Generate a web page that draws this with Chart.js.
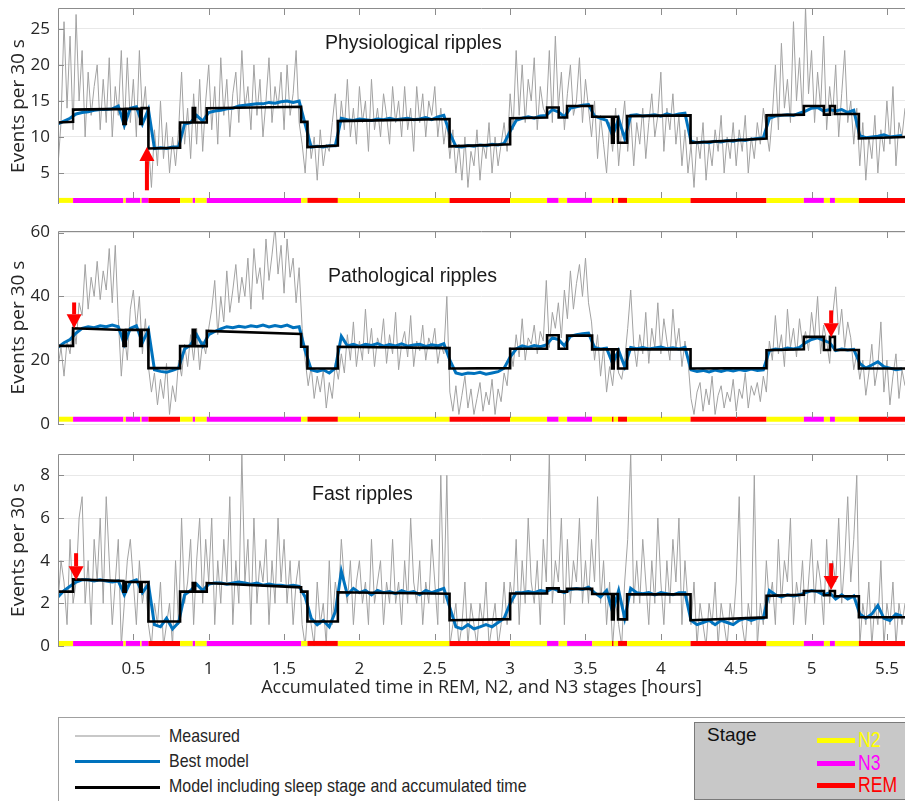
<!DOCTYPE html>
<html>
<head>
<meta charset="utf-8">
<script src="https://cdn.jsdelivr.net/npm/chart.js@4.4.1/dist/chart.umd.min.js"></script>
<style>
  body { margin: 0; background: #fff; width: 905px; height: 801px; overflow: hidden; position: relative; }
  canvas { position: absolute; left: 0; }
  .ptitle { position: absolute; font: 19.5px "Liberation Sans", Arial, sans-serif; color: #1a1a1a; line-height: 22px; white-space: nowrap; }
  .lgtext { position: absolute; font: 19px "Liberation Sans", Arial, sans-serif; color: #262626; line-height: 20px; white-space: nowrap; transform: scaleX(0.84); transform-origin: left center; }
  .lgline { position: absolute; }
  #legendBox { position: absolute; left: 58px; top: 717px; width: 847px; height: 90px; border-top: 1px solid #a0a0a0; border-left: 1px solid #a0a0a0; }
  #stageBox { position: absolute; left: 694px; top: 722px; width: 215px; height: 76px; background: #c8c8c8; border: 1px solid #7a7a7a; }
  .stxt { position: absolute; font: 22px "Liberation Sans", Arial, sans-serif; line-height: 22px; white-space: nowrap; transform: scaleX(0.8); transform-origin: left center; }
</style>
</head>
<body>
<canvas id="physio" width="905" height="210" style="top:0px"></canvas>
<canvas id="patho" width="905" height="220" style="top:210px"></canvas>
<canvas id="fast" width="905" height="260" style="top:440px"></canvas>

<div class="ptitle" style="left:325px;top:31px">Physiological ripples</div>
<div class="ptitle" style="left:328px;top:264px">Pathological ripples</div>
<div class="ptitle" style="left:312px;top:482px">Fast ripples</div>

<div id="legendBox"></div>
<div class="lgline" style="left:75px;top:735px;width:85px;height:2px;background:#c8c8c8"></div>
<div class="lgtext" style="left:169px;top:726px">Measured</div>
<div class="lgline" style="left:75px;top:760px;width:85px;height:3px;background:#0072bd"></div>
<div class="lgtext" style="left:169px;top:751px">Best model</div>
<div class="lgline" style="left:75px;top:786px;width:85px;height:3px;background:#000"></div>
<div class="lgtext" style="left:169px;top:776px">Model including sleep stage and accumulated time</div>

<div id="stageBox"></div>
<div class="ptitle" style="left:707px;top:724px;font-size:19px;color:#111">Stage</div>
<div class="lgline" style="left:817px;top:738px;width:38px;height:5px;background:#ffff00"></div>
<div class="stxt" style="left:858px;top:729px;color:#ffff00">N2</div>
<div class="lgline" style="left:817px;top:761px;width:38px;height:5px;background:#ff00ff"></div>
<div class="stxt" style="left:858px;top:752px;color:#ff00ff">N3</div>
<div class="lgline" style="left:817px;top:783px;width:38px;height:5px;background:#ff0000"></div>
<div class="stxt" style="left:858px;top:774px;color:#ff0000">REM</div>

<script>
// sleep stage segments (hours of accumulated time)
const stageStart = [0, 0.100, 0.434, 0.450, 0.545, 0.555, 0.600, 0.810, 0.894, 0.910, 0.987, 1.613, 1.655, 1.857, 2.598, 3.000,
  3.245, 3.322, 3.378, 3.544, 3.676, 3.687, 3.716, 3.776, 4.197, 4.701, 4.949, 5.082, 5.122, 5.155, 5.314];
const stageName = ["N2", "N3", "N2", "N3", "N2", "N3", "REM", "N2", "N3", "N2", "N3", "N2", "REM", "N2", "REM", "N2",
  "N3", "N2", "N3", "N2", "REM", "N2", "REM", "N2", "REM", "N2", "N3", "N2", "N3", "N2", "REM"];
const timeEnd = 5.62;
const stageColor = { N2: "#ffff00", N3: "#ff00ff", REM: "#ff0000" };

const measuredStep = 0.02; // hours between measured samples
const bestStep = 0.04;     // hours between best model samples
const xTicks = [0.5, 1, 1.5, 2, 2.5, 3, 3.5, 4, 4.5, 5, 5.5];

// Physiological ripples
const physioMeasured = [
  6, 12, 26, 14, 24, 11, 27, 15, 22, 10, 19, 13, 17, 20, 11, 18, 12, 21, 10, 17, 13, 22, 11, 21, 12,
  18, 10, 22, 13, 17, 9, 3, 11, 6, 15, 7, 12, 5, 10, 6, 11, 19, 9, 14, 7, 16, 9, 18, 8, 15,
  20, 11, 17, 9, 21, 13, 18, 10, 16, 19, 12, 22, 14, 17, 11, 20, 13, 18, 10, 15, 21, 12, 17, 14, 19,
  11, 20, 13, 16, 22, 12, 9, 5, 12, 7, 10, 4, 11, 6, 9, 8, 12, 16, 9, 15, 11, 18, 10, 14, 9,
  17, 12, 15, 8, 18, 11, 14, 10, 16, 13, 9, 17, 12, 15, 10, 17, 11, 14, 8, 17, 12, 16, 10, 15, 13,
  17, 10, 14, 9, 12, 7, 11, 5, 9, 4, 10, 3, 8, 6, 11, 4, 9, 7, 12, 5, 10, 6, 9, 12, 8,
  16, 11, 22, 13, 20, 12, 18, 15, 21, 11, 17, 14, 13, 22, 12, 24, 14, 19, 11, 16, 20, 13, 15, 21, 12,
  18, 14, 10, 15, 7, 13, 9, 5, 12, 8, 14, 6, 11, 15, 8, 13, 6, 12, 9, 14, 7, 12, 16, 10, 13,
  19, 8, 14, 11, 16, 9, 13, 6, 11, 5, 9, 3, 10, 7, 12, 4, 9, 6, 11, 8, 13, 5, 10, 7, 12,
  6, 11, 8, 13, 5, 10, 7, 12, 9, 14, 11, 8, 13, 20, 11, 23, 14, 18, 12, 26, 15, 21, 13, 28, 16,
  22, 12, 19, 14, 24, 11, 17, 13, 20, 10, 16, 22, 12, 15, 9, 14, 6, 12, 4, 10, 7, 13, 5, 11, 8,
  15, 9, 17, 6, 12, 10, 14];
const physioBest = [
  11.8, 12.2, 12.6, 13.2, 13.4, 13.5, 13.7, 13.8, 13.8, 13.9, 14.3, 11.6, 14.0, 14.2, 11.8, 13.8, 8.4, 8.5, 8.4, 8.6, 8.6, 11.8, 12.0, 13.0, 12.2,
  13.4, 13.6, 13.7, 13.9, 14.0, 14.3, 14.4, 14.5, 14.6, 14.6, 14.8, 14.7, 14.9, 15.0, 14.8, 15.0, 11.8, 8.6, 8.7, 8.6, 8.8, 8.8, 12.6, 12.4, 12.3,
  12.5, 12.4, 12.3, 12.5, 12.4, 12.6, 12.4, 12.5, 12.6, 12.4, 12.5, 12.7, 12.4, 12.8, 13.0, 10.5, 8.7, 8.6, 8.8, 8.7, 8.9, 8.8, 9.0, 8.9, 9.1,
  10.8, 12.3, 12.6, 12.8, 12.6, 12.9, 13.0, 13.8, 13.5, 12.8, 14.0, 14.2, 14.4, 14.5, 12.9, 12.6, 12.3, 10.2, 12.5, 9.8, 13.0, 13.1, 12.9, 13.0, 13.1,
  12.9, 13.2, 13.0, 13.2, 13.3, 9.4, 9.2, 9.3, 9.2, 9.4, 9.3, 9.5, 9.4, 9.6, 9.5, 9.7, 9.8, 9.9, 12.6, 12.9, 13.0, 13.1, 13.0, 13.3, 13.6,
  14.0, 14.1, 13.6, 13.8, 13.6, 13.8, 13.4, 13.7, 10.2, 9.9, 10.0, 10.1, 10.3, 10.0, 10.1, 10.2];
const physioModelStart = [12.0, 13.8, 11.8, 13.9, 11.8, 14.0, 8.4, 12.0, 14.0, 12.0, 14.0, 12.1, 8.6, 12.2, 8.7, 12.6,
  14.1, 12.7, 14.3, 12.8, 9.2, 12.8, 9.2, 12.9, 9.2, 13.0, 14.3, 13.1, 14.3, 13.2, 9.8];
const physioModelEnd = [12.1, 13.9, 11.8, 13.9, 11.8, 14.0, 8.5, 12.0, 14.0, 12.0, 14.2, 12.1, 8.8, 12.5, 9.0, 12.7,
  14.1, 12.7, 14.3, 12.8, 9.2, 12.8, 9.2, 13.0, 9.8, 13.1, 14.3, 13.1, 14.3, 13.2, 10.0];
const physioTicks = [5, 10, 15, 20, 25];

// Pathological ripples
const pathoMeasured = [
  18, 24, 15, 26, 22, 32, 25, 38, 34, 50, 36, 46, 40, 51, 39, 48, 42, 55, 38, 56, 33, 15, 28, 20, 36,
  42, 30, 40, 22, 33, 18, 10, 16, 6, 14, 8, 19, 3, 12, 7, 20, 15, 25, 18, 28, 20, 30, 17, 26, 22,
  30, 36, 45, 28, 40, 32, 48, 35, 42, 50, 38, 46, 40, 52, 36, 55, 44, 49, 39, 58, 45, 53, 62, 47, 56,
  41, 58, 46, 52, 38, 49, 30, 20, 12, 18, 8, 15, 10, 17, 5, 13, 8, 19, 14, 22, 16, 28, 20, 32, 18,
  26, 20, 36, 22, 30, 18, 27, 24, 33, 19, 28, 22, 35, 17, 25, 29, 21, 34, 18, 26, 23, 31, 20, 27, 24,
  30, 19, 25, 22, 40, 10, 4, 12, 3, 9, 15, 5, 11, 3, 8, 13, 4, 10, 6, 14, 3, 11, 7, 16, 12,
  24, 18, 28, 21, 33, 20, 27, 25, 31, 22, 29, 26, 45, 24, 35, 30, 38, 27, 42, 33, 48, 36, 44, 50, 40,
  52, 38, 32, 20, 28, 15, 24, 10, 18, 12, 22, 16, 14, 20, 30, 42, 25, 18, 28, 22, 35, 19, 30, 24, 38,
  22, 33, 26, 20, 36, 24, 30, 18, 26, 20, 8, 3, 10, 13, 4, 11, 6, 15, 3, 9, 12, 5, 10, 7, 14,
  4, 11, 8, 16, 5, 12, 9, 13, 7, 15, 10, 26, 20, 34, 22, 28, 18, 36, 24, 30, 21, 33, 25, 29, 23,
  35, 27, 40, 22, 31, 26, 19, 34, 43, 28, 36, 24, 32, 27, 17, 22, 14, 20, 9, 16, 25, 12, 18, 32, 10,
  20, 6, 15, 22, 8, 17, 12];
const pathoBest = [
  24.0, 25.5, 26.5, 28.5, 30.0, 30.5, 30.2, 30.8, 30.5, 31.0, 30.5, 25.0, 30.0, 30.8, 25.5, 29.5, 17.0, 16.5, 16.2, 16.8, 17.5, 23.5, 24.8, 28.0, 24.5,
  28.0, 29.0, 29.8, 30.5, 30.2, 30.6, 30.3, 30.8, 30.5, 31.0, 30.4, 30.9, 30.5, 31.0, 30.2, 30.5, 23.0, 17.0, 16.5, 17.0, 16.0, 17.5, 27.5, 24.5, 25.0,
  24.3, 25.0, 24.6, 25.2, 24.4, 24.9, 24.5, 25.1, 24.4, 24.8, 25.0, 24.3, 24.8, 24.5, 25.2, 20.0, 16.0, 15.5, 16.0, 15.8, 16.2, 15.6, 16.0, 16.4, 17.5,
  21.0, 23.5, 24.5, 24.0, 24.6, 24.2, 24.8, 27.0, 26.5, 24.5, 27.5, 28.0, 28.3, 28.5, 24.0, 23.5, 23.8, 19.0, 23.0, 18.0, 24.0, 23.6, 24.0, 23.5, 23.8,
  24.1, 23.6, 23.9, 23.5, 24.0, 17.0, 16.5, 16.8, 16.3, 16.9, 16.5, 17.0, 16.6, 17.1, 16.7, 17.2, 16.8, 17.0, 23.0, 23.5, 23.3, 23.8, 23.5, 24.0, 25.5,
  26.5, 27.0, 26.2, 25.5, 23.0, 23.5, 23.2, 23.4, 19.0, 17.5, 18.5, 19.5, 18.0, 17.5, 17.0, 17.3];
const pathoModelStart = [24.5, 30.0, 24.5, 29.5, 24.5, 29.5, 17.5, 24.4, 29.5, 24.4, 29.2, 24.2, 17.4, 24.2, 17.4, 23.6,
  27.8, 23.6, 27.7, 23.4, 17.4, 23.4, 17.4, 23.4, 17.4, 23.1, 27.3, 23.2, 27.3, 23.2, 17.4];
const pathoModelEnd = [24.5, 29.5, 24.5, 29.5, 24.5, 29.5, 17.5, 24.4, 29.5, 24.4, 28.2, 24.2, 17.4, 23.8, 17.5, 23.6,
  27.8, 23.6, 27.7, 23.4, 17.4, 23.4, 17.4, 23.4, 17.5, 23.4, 27.3, 23.2, 27.3, 23.2, 17.4];
const pathoTicks = [0, 20, 40, 60];

// Fast ripples
const fastMeasured = [
  2, 4, 3, 1, 5, 2, 3, 6, 7, 2, 4, 1, 5, 3, 6, 2, 7, 4, 1, 3, 5, 0, 2, 4, 5,
  3, 1, 4, 2, 3, 1, 0, 2, 1, 3, 0, 1, 2, 0, 4, 1, 6, 2, 3, 5, 1, 4, 6, 2, 5,
  3, 6, 1, 4, 2, 5, 3, 7, 1, 4, 2, 9, 3, 5, 1, 6, 2, 4, 3, 5, 1, 4, 2, 6, 3,
  5, 2, 4, 1, 3, 4, 1, 0, 2, 1, 0, 3, 1, 2, 0, 4, 1, 3, 2, 5, 3, 2, 4, 1, 3,
  4, 2, 3, 1, 5, 2, 3, 4, 1, 3, 2, 5, 2, 3, 1, 4, 2, 6, 3, 2, 4, 1, 3, 2, 5,
  3, 1, 8, 2, 8, 0, 1, 2, 0, 1, 3, 0, 2, 1, 0, 2, 1, 3, 0, 1, 2, 0, 1, 3, 1,
  3, 2, 5, 1, 4, 2, 6, 3, 2, 4, 1, 5, 3, 9, 2, 4, 3, 6, 1, 5, 2, 4, 3, 6, 2,
  4, 2, 5, 3, 7, 2, 4, 1, 3, 0, 2, 1, 0, 3, 5, 9, 2, 4, 2, 5, 3, 1, 4, 2, 6,
  3, 1, 4, 2, 5, 3, 6, 1, 4, 2, 1, 3, 0, 2, 1, 0, 2, 1, 3, 0, 2, 1, 0, 2, 1,
  3, 7, 1, 0, 2, 1, 8, 0, 2, 1, 4, 2, 3, 1, 5, 2, 4, 3, 6, 1, 3, 2, 4, 1, 3,
  5, 2, 4, 3, 1, 5, 2, 4, 3, 6, 2, 4, 7, 3, 5, 8, 0, 2, 1, 3, 0, 2, 1, 4, 0,
  2, 1, 3, 0, 2, 1, 2];
const fastBest = [
  2.3, 2.6, 2.8, 3.0, 3.1, 3.1, 3.05, 3.1, 3.05, 3.0, 3.05, 2.4, 3.0, 3.1, 2.5, 2.9, 1.0, 0.9, 1.3, 0.8, 1.1, 2.4, 2.6, 2.9, 2.6,
  2.9, 2.95, 2.95, 2.9, 2.95, 3.0, 2.95, 2.9, 2.95, 2.85, 2.9, 2.85, 2.85, 2.8, 2.85, 2.8, 2.3, 1.3, 1.0, 1.2, 0.9, 1.6, 3.5, 2.4, 2.7,
  2.5, 2.6, 2.4, 2.6, 2.5, 2.55, 2.45, 2.6, 2.5, 2.55, 2.4, 2.6, 2.5, 2.6, 2.7, 1.8, 0.9, 0.8, 1.0, 0.8, 0.9, 1.0, 0.9, 1.1, 1.3,
  2.0, 2.5, 2.5, 2.55, 2.5, 2.6, 2.55, 2.7, 2.6, 2.5, 2.65, 2.7, 2.65, 2.75, 2.5, 2.3, 2.6, 1.6, 2.6, 1.3, 2.7, 2.5, 2.45, 2.5, 2.4,
  2.5, 2.45, 2.4, 2.5, 2.5, 1.2, 1.0, 1.1, 1.2, 1.0, 1.2, 1.1, 1.0, 1.2, 1.3, 1.2, 1.3, 1.3, 2.6, 2.4, 2.3, 2.4, 2.35, 2.4, 2.5,
  2.6, 2.55, 2.4, 2.5, 2.2, 2.4, 2.2, 2.35, 1.5, 1.3, 1.5, 1.9, 1.3, 1.2, 1.5, 1.4];
const fastModelStart = [2.55, 3.12, 2.55, 3.0, 2.55, 3.0, 1.15, 2.55, 2.95, 2.55, 2.95, 2.55, 1.15, 2.52, 1.21, 2.46,
  2.7, 2.55, 2.68, 2.44, 1.25, 2.44, 1.25, 2.42, 1.21, 2.35, 2.58, 2.38, 2.58, 2.33, 1.35];
const fastModelEnd = [2.55, 3.05, 2.55, 3.0, 2.55, 3.0, 1.15, 2.55, 2.95, 2.55, 2.75, 2.55, 1.15, 2.45, 1.26, 2.46,
  2.7, 2.55, 2.68, 2.44, 1.25, 2.44, 1.25, 2.42, 1.34, 2.4, 2.58, 2.38, 2.58, 2.33, 1.35];
const fastTicks = [0, 2, 4, 6, 8];

// red arrows: time, tail value, tip value
const physioArrows = [[0.59, 2.6, 8.6]];
const pathoArrows = [[0.107, 38.1, 30.0], [5.13, 35.6, 27.2]];
const fastArrows = [[0.12, 4.35, 3.08], [5.13, 3.88, 2.62]];

function sampled(values, step) {
  return values.map((v, i) => ({ x: i * step, y: v }));
}

function modelPoints(startVals, endVals) {
  const pts = [];
  for (let i = 0; i < stageStart.length; i++) {
    const end = i + 1 < stageStart.length ? stageStart[i + 1] : timeEnd;
    pts.push({ x: stageStart[i], y: startVals[i] });
    pts.push({ x: end, y: endVals[i] });
  }
  return pts;
}

function stagePoints(level) {
  return [...stageStart, timeEnd].map((t) => ({ x: t, y: level }));
}

const framePlugin = {
  id: "frame",
  afterDraw(chart) {
    const { ctx, chartArea: a, scales } = chart;
    ctx.save();
    ctx.strokeStyle = "#8c8c8c";
    ctx.lineWidth = 1;
    ctx.beginPath();
    ctx.moveTo(a.left + 0.5, a.bottom);
    ctx.lineTo(a.left + 0.5, a.top + 0.5);
    ctx.lineTo(a.right, a.top + 0.5);
    xTicks.forEach((v) => {
      const px = Math.round(scales.x.getPixelForValue(v)) + 0.5;
      ctx.moveTo(px, a.top);
      ctx.lineTo(px, a.top + 7);
      ctx.moveTo(px, a.bottom - 6);
      ctx.lineTo(px, a.bottom - 12);
    });
    scales.y.ticks.forEach((t) => {
      const py = Math.round(scales.y.getPixelForValue(t.value)) + 0.5;
      ctx.moveTo(a.left, py);
      ctx.lineTo(a.left + 6, py);
    });
    ctx.stroke();
    ctx.restore();
  },
};

const arrowPlugin = {
  id: "arrows",
  afterDatasetsDraw(chart, args, opts) {
    const { ctx, scales } = chart;
    ctx.save();
    ctx.fillStyle = "#ff0000";
    (opts.list || []).forEach(([t, from, to]) => {
      const x = scales.x.getPixelForValue(t);
      const y0 = scales.y.getPixelForValue(from);
      const y1 = scales.y.getPixelForValue(to);
      const dir = y1 > y0 ? 1 : -1;
      const head = 14;
      ctx.fillRect(x - 2, Math.min(y0, y1 - dir * head), 4, Math.abs(y1 - dir * head - y0));
      ctx.beginPath();
      ctx.moveTo(x, y1);
      ctx.lineTo(x - 7.5, y1 - dir * head);
      ctx.lineTo(x + 7.5, y1 - dir * head);
      ctx.closePath();
      ctx.fill();
    });
    ctx.restore();
  },
};

const textColor = "#262626";
const tickFont = { family: "'Open Sans', sans-serif", size: 17 };

function makePanel(id, p) {
  const showX = !!p.xTitle;
  return new Chart(document.getElementById(id), {
    type: "line",
    data: {
      datasets: [
        {
          label: "Stage",
          data: stagePoints(p.stageLevel),
          borderColor: "#ffff00",
          segment: { borderColor: (c) => stageColor[stageName[c.p0DataIndex]] },
          borderWidth: 5,
          borderCapStyle: "butt",
          pointRadius: 0,
          clip: 6,
          order: 0,
        },
        {
          label: "Model including sleep stage and accumulated time",
          data: modelPoints(p.modelStart, p.modelEnd),
          borderColor: "#000000",
          borderWidth: 2.6,
          pointRadius: 0,
          order: 1,
        },
        {
          label: "Best model",
          data: sampled(p.best, bestStep),
          borderColor: "#0072bd",
          borderWidth: 3,
          pointRadius: 0,
          order: 2,
        },
        {
          label: "Measured",
          data: sampled(p.measured, measuredStep),
          borderColor: "#a2a2a2",
          borderWidth: 1,
          pointRadius: 0,
          order: 3,
        },
      ],
    },
    options: {
      responsive: false,
      animation: false,
      devicePixelRatio: 1,
      layout: { padding: { top: p.padTop, bottom: p.padBottom, left: 0, right: 0 } },
      plugins: {
        legend: { display: false },
        tooltip: { enabled: false },
        arrows: { list: p.arrows },
      },
      scales: {
        x: {
          type: "linear",
          min: 0,
          max: timeEnd,
          display: showX,
          afterBuildTicks: (s) => { s.ticks = xTicks.map((v) => ({ value: v })); },
          afterFit: (s) => { s.height = showX ? 54 : 0; s.paddingLeft = 0; s.paddingRight = 0; },
          grid: { display: false, drawTicks: false },
          border: { display: false },
          ticks: { font: tickFont, color: textColor, padding: 13, maxRotation: 0, autoSkip: false, callback: (v) => String(v) },
          title: {
            display: showX,
            text: p.xTitle || "",
            font: { family: "'Open Sans', sans-serif", size: 18 },
            color: textColor,
            padding: { top: 0, bottom: 1 },
          },
        },
        y: {
          min: p.yMin,
          max: p.yMax,
          afterBuildTicks: (s) => { s.ticks = p.yTicks.map((v) => ({ value: v })); },
          afterFit: (s) => { s.width = 58; s.paddingTop = 0; s.paddingBottom = 0; },
          grid: { color: "#e8e8e8", drawTicks: false },
          border: { display: false },
          ticks: { font: tickFont, color: textColor, padding: 8 },
          title: {
            display: true,
            text: "Events per 30 s",
            font: { family: "'Open Sans', sans-serif", size: 19 },
            color: textColor,
            padding: { top: 7, bottom: 0 },
          },
        },
      },
    },
    plugins: [framePlugin, arrowPlugin],
  });
}

makePanel("physio", {
  measured: physioMeasured, best: physioBest,
  modelStart: physioModelStart, modelEnd: physioModelEnd,
  yTicks: physioTicks, yMin: 0.7, yMax: 27.9, stageLevel: 1.2,
  arrows: physioArrows, padTop: 8, padBottom: 6,
});
makePanel("patho", {
  measured: pathoMeasured, best: pathoBest,
  modelStart: pathoModelStart, modelEnd: pathoModelEnd,
  yTicks: pathoTicks, yMin: 0, yMax: 60.5, stageLevel: 1.5,
  arrows: pathoArrows, padTop: 21, padBottom: 6,
});
makePanel("fast", {
  measured: fastMeasured, best: fastBest,
  modelStart: fastModelStart, modelEnd: fastModelEnd,
  yTicks: fastTicks, yMin: 0, yMax: 9, stageLevel: 0.12,
  arrows: fastArrows, padTop: 14, padBottom: 0,
  xTitle: "Accumulated time in REM, N2, and N3 stages [hours]",
});
</script>
</body>
</html>
